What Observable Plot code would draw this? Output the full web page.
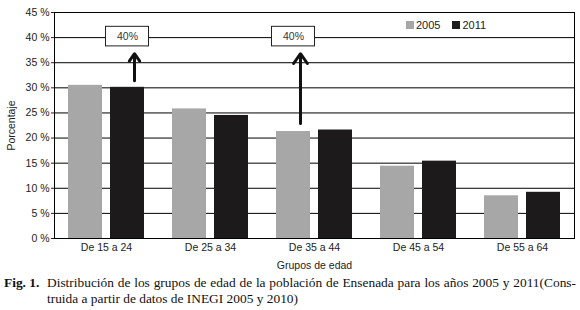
<!DOCTYPE html>
<html>
<head>
<meta charset="utf-8">
<script src="https://cdn.jsdelivr.net/npm/d3@7"></script>
<script src="https://cdn.jsdelivr.net/npm/@observablehq/plot@0.6"></script>
<style>
  body { margin: 0; background: #fff; width: 580px; height: 310px; overflow: hidden; position: relative; }
  #chart svg { display: block; }
  .legend { position: absolute; top: 19px; left: 406px; font: 11px "Liberation Sans", Arial, sans-serif; color: #222; display: flex; gap: 12px; }
  .legend span { display: inline-flex; align-items: center; }
  .legend i { display: inline-block; width: 8px; height: 8px; margin-right: 2px; }
  .cap { position: absolute; top: 275px; left: 4px; width: 572px; font: 13.4px/16px "Liberation Serif", "Times New Roman", serif; color: #111; display: flex; }
  .cap .fig { font-weight: bold; width: 43px; flex: none; white-space: nowrap; }
  .cap .body { flex: 1; }
  .cap .l1 { text-align: justify; text-align-last: justify; white-space: nowrap; }
</style>
</head>
<body>
<div id="chart"></div>
<div class="legend" id="legend"></div>
<div class="cap"><div class="fig">Fig. 1.</div><div class="body"><div class="l1">Distribución de los grupos de edad de la población de Ensenada para los años 2005 y 2011(Cons-</div><div>truida a partir de datos de INEGI 2005 y 2010)</div></div></div>
<script>
const groups = ["De 15 a 24", "De 25 a 34", "De 35 a 44", "De 45 a 54", "De 55 a 64"];
const years = ["2005", "2011"];
const values2005 = [30.5, 25.8, 21.3, 14.4, 8.5];
const values2011 = [30.1, 24.5, 21.6, 15.4, 9.2];
const colors = ["#a7a7a8", "#1c1a1b"];
const yTicks = [0, 5, 10, 15, 20, 25, 30, 35, 40, 45];

// annotations
const annGroups = ["De 15 a 24", "De 35 a 44"];
const annYears = ["2011", "2005"];
const annLabels = ["40%", "40%"];
const annValues = [40.2, 40.2];
const annFrom = [31.4, 22.9];
const annTo = [36.8, 36.8];

const data = [];
groups.forEach((g, i) => {
  data.push({group: g, year: "2005", value: values2005[i]});
  data.push({group: g, year: "2011", value: values2011[i]});
});
const ann = annGroups.map((g, i) => ({group: g, year: annYears[i], label: annLabels[i], value: annValues[i], from: annFrom[i], to: annTo[i]}));

const font = '"Liberation Sans", Arial, sans-serif';

const chart = Plot.plot({
  width: 580,
  height: 272,
  marginLeft: 53,
  marginRight: 6,
  marginTop: 12,
  marginBottom: 34,
  style: {fontFamily: font, fontSize: "10.5px", color: "#222", background: "#fff"},
  fx: {domain: groups, padding: 0, label: "Grupos de edad", axis: "bottom", tickSize: 0, tickPadding: 5, labelAnchor: "center", labelOffset: 30},
  x: {domain: years, paddingInner: 0.186, paddingOuter: 0.305, axis: null},
  y: {domain: [0, 45], ticks: yTicks, tickFormat: d => d + " %", tickSize: 3, tickPadding: 2, label: "Porcentaje", labelArrow: "none", labelAnchor: "center", labelOffset: 47},
  color: {domain: years, range: colors},
  marks: [
    Plot.ruleY(yTicks, {stroke: "#000", strokeWidth: 1}),
    Plot.barY(data, {fx: "group", x: "year", y: "value", fill: "year"}),
    Plot.arrow(ann, {fx: "group", x1: "year", x2: "year", y1: "from", y2: "to", stroke: "#111", strokeWidth: 3, headLength: 6, headAngle: 70, dx: 7}),
    Plot.barY(ann, {fx: "group", x: "year", y1: d => d.value - 1.95, y2: d => d.value + 1.95, fill: "#fff", stroke: "#222", strokeWidth: 1, insetLeft: -4.5, insetRight: -4.5, dx: 0}),
    Plot.text(ann, {fx: "group", x: "year", y: "value", text: "label", dx: 0, fill: "#333", fontSize: 10.5}),
    Plot.frame({stroke: "#000", anchor: "left", facetAnchor: "left"}),
    Plot.frame({stroke: "#000", anchor: "right", facetAnchor: "right"})
  ]
});
document.getElementById("chart").appendChild(chart);

const legend = document.getElementById("legend");
years.forEach((y, i) => {
  const s = document.createElement("span");
  s.innerHTML = `<i style="background:${colors[i]}"></i>${y}`;
  legend.appendChild(s);
});
</script>
</body>
</html>
